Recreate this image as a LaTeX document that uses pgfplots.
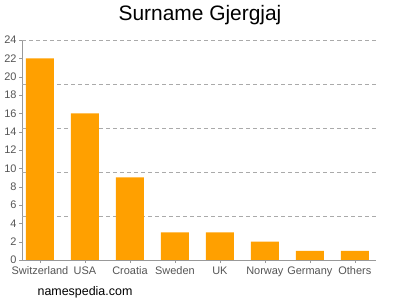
\documentclass[border=0pt]{standalone}
\usepackage{pgfplots}
\pgfplotsset{compat=1.18}
\usepackage{fontspec}
\setmainfont{Liberation Sans}
\definecolor{barorange}{HTML}{FFA000}
\definecolor{axgray}{HTML}{999999}
\definecolor{gridgray}{HTML}{AAAAAA}
\definecolor{txtgray}{HTML}{555555}
\begin{document}
\begin{tikzpicture}[x=1bp,y=1bp]
\path[use as bounding box] (0,0) rectangle (400,300);
\begin{axis}[
  at={(22bp,40bp)}, anchor=south west,
  scale only axis, width=354bp, height=220bp,
  xmin=-0.4, xmax=7.47, ymin=0, ymax=24,
  ytick={0,2,...,24},
  xtick={0,...,7},
  xticklabels={Switzerland,USA,Croatia,Sweden,UK,Norway,Germany,Others},
  axis x line*=bottom, axis y line*=left,
  axis line style={axgray,-},
  tick style={axgray},
  major tick length=3bp,
  tick align=outside,
  ticklabel style={font=\fontsize{11}{11}\selectfont, text=txtgray},
  xticklabel style={yshift=0bp},
  yticklabel style={xshift=1bp},
  /pgf/number format/assume math mode=true,
  extra y ticks={4.8,9.6,14.4,19.2,24},
  extra y tick labels={},
  extra y tick style={grid=major, major tick length=0pt, major grid style={gridgray, dash pattern=on 4bp off 3bp}},
  ybar, bar width=28bp,
  clip=false,
]
\addplot[fill=barorange, draw=none] coordinates {(0,22) (1,16) (2,9) (3,3) (4,3) (5,2) (6,1) (7,1)};
\end{axis}
\node[font=\fontsize{21}{21}\selectfont, text=black] at (200,285) {Surname Gjergjaj};
\node[font=\fontsize{12.5}{12.5}\selectfont, text=black] at (85,8) {namespedia.com};
\end{tikzpicture}
\end{document}
